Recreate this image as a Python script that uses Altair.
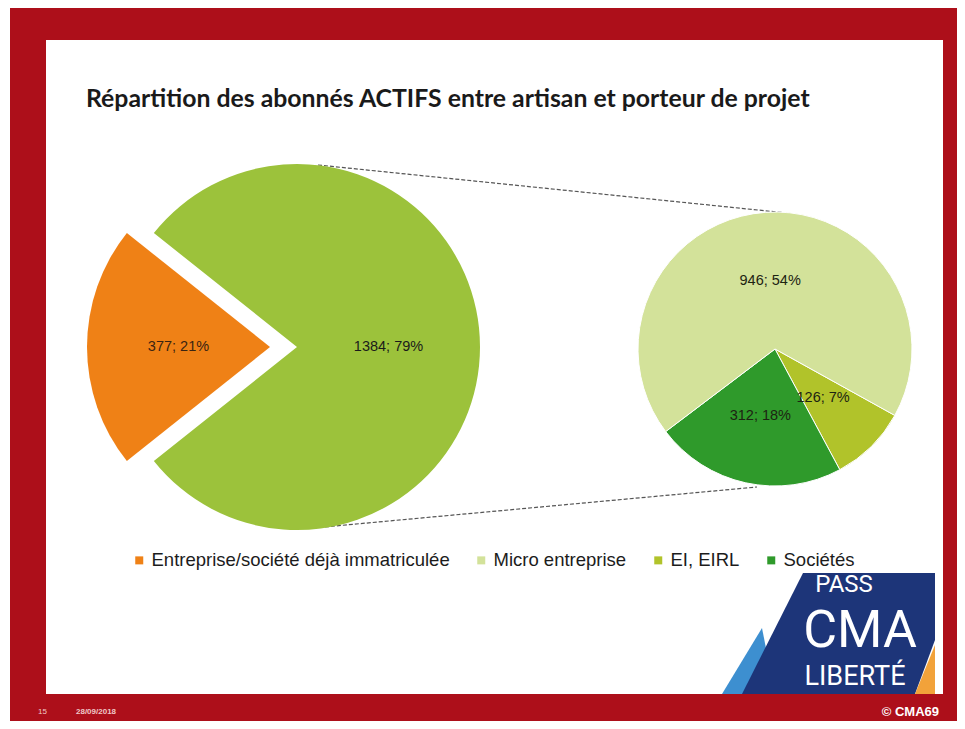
import math
import altair as alt
import pandas as pd

# ---------------- data ----------------
main_categories = ["Entreprise/société déjà immatriculée", "Porteur de projet"]
main_values = [377, 1384]
main_pct = [21, 79]

sub_categories = ["EI, EIRL", "Sociétés", "Micro entreprise"]
sub_values = [126, 312, 946]
sub_pct = [7, 18, 54]

legend_order = ["Entreprise/société déjà immatriculée", "Micro entreprise", "EI, EIRL", "Sociétés"]
legend_colors = ["#ef8116", "#d3e29a", "#b1c32a", "#2f9a2b"]
main_green = "#9cc23b"

title_text = "Répartition des abonnés ACTIFS entre artisan et porteur de projet"

# ---------------- layout ----------------
W, H = 949, 713
OFF = 8  # page margin -> chart coordinates


def c(v):
    return v - OFF


RED = "#ad0f1a"
LABEL_FONT = "Liberation Sans"

MAIN_CX, MAIN_CY, MAIN_R = c(297), c(347), 183
EXPLODE = 27
SUB_CX, SUB_CY, SUB_R = c(775), c(349), 137

main_df = pd.DataFrame({
    "categorie": main_categories,
    "valeur": main_values,
    "ordre": list(range(len(main_values))),
    "etiquette": [f"{v}; {p}%" for v, p in zip(main_values, main_pct)],
})
sub_df = pd.DataFrame({
    "categorie": sub_categories,
    "valeur": sub_values,
    "ordre": list(range(len(sub_values))),
    "etiquette": [f"{v}; {p}%" for v, p in zip(sub_values, sub_pct)],
})

main_total = sum(main_values)
main_start = 1.5 * math.pi - math.pi * main_values[0] / main_total
theta_main = alt.Scale(domain=[0, main_total], range=[main_start, main_start + 2 * math.pi])

sub_total = sum(sub_values)
sub_start = math.radians(119)
theta_sub = alt.Scale(domain=[0, sub_total], range=[sub_start, sub_start + 2 * math.pi])

color_scale = alt.Scale(domain=legend_order, range=legend_colors)
legend = alt.Legend(
    orient="none", legendX=c(130), legendY=c(551), direction="horizontal",
    title=None, symbolType="square", symbolSize=64, symbolStrokeWidth=0,
    labelFont=LABEL_FONT, labelFontSize=18.5, labelColor="#1c1c1c", labelLimit=0,
    labelOffset=3, columnPadding=22, padding=0,
)

# ---------------- background ----------------
bg = alt.Chart(pd.DataFrame({"a": [0]}))
red_frame = bg.mark_rect(color=RED).encode(
    x=alt.value(c(10)), x2=alt.value(c(965)), y=alt.value(c(6)), y2=alt.value(c(729)))
white_area = bg.mark_rect(color="#ffffff").encode(
    x=alt.value(c(46)), x2=alt.value(c(943)), y=alt.value(c(40)), y2=alt.value(c(694)))

# logo shapes (decoration)
xs = alt.Scale(domain=[0, W], range=[0, W])
ys = alt.Scale(domain=[0, H], range=[0, H])
logo_light = pd.DataFrame({"x": [c(722), c(762), c(775)], "y": [c(694), c(628), c(694)],
                           "y2": [c(694), c(694), c(694)]})
logo_navy = pd.DataFrame({"x": [c(742), c(803), c(915), c(935)],
                          "y": [c(694), c(573), c(573), c(573)],
                          "y2": [c(694), c(694), c(694), c(640)]})
logo_orange = pd.DataFrame({"x": [c(915), c(935)], "y": [c(694), c(645)], "y2": [c(694), c(694)]})


def poly(df, color):
    return alt.Chart(df).mark_area(color=color, interpolate="linear").encode(
        x=alt.X("x:Q", scale=xs, axis=None),
        y=alt.Y("y:Q", scale=ys, axis=None),
        y2="y2:Q",
    )


logo = alt.layer(poly(logo_light, "#3d8fd0"), poly(logo_navy, "#1d3579"), poly(logo_orange, "#f2a23a"))

LOGO_FONT = "Roboto"
logo_pass = bg.mark_text(text="PASS", font=LOGO_FONT, fontSize=24, color="#ffffff",
                         align="center", baseline="alphabetic").encode(x=alt.value(c(844)), y=alt.value(c(592)))
logo_cma = bg.mark_text(text="CMA", font=LOGO_FONT, fontSize=52, color="#ffffff",
                        align="center", baseline="alphabetic").encode(x=alt.value(c(860)), y=alt.value(c(647)))
logo_lib = bg.mark_text(text="LIBERTÉ", font=LOGO_FONT, fontSize=27, color="#ffffff",
                        align="center", baseline="alphabetic").encode(x=alt.value(c(855)), y=alt.value(c(685)))

# connectors
dash_top = bg.mark_rule(color="#555555", strokeDash=[4, 2], strokeWidth=1.2).encode(
    x=alt.value(c(318)), y=alt.value(c(165)), x2=alt.value(c(787)), y2=alt.value(c(213)))
dash_bot = bg.mark_rule(color="#555555", strokeDash=[4, 2], strokeWidth=1.2).encode(
    x=alt.value(c(313)), y=alt.value(c(528)), x2=alt.value(c(757)), y2=alt.value(c(487)))

# ---------------- main pie ----------------
main_base = alt.Chart(main_df).transform_stack(
    stack="valeur", groupby=[], as_=["debut", "fin"],
    sort=[alt.SortField("ordre", order="ascending")],
).transform_calculate(milieu="(datum.debut + datum.fin) / 2")

green_arc = main_base.transform_filter(alt.datum.ordre == 1).mark_arc(radius=MAIN_R).encode(
    x=alt.value(MAIN_CX), y=alt.value(MAIN_CY),
    theta=alt.Theta("debut:Q", scale=theta_main), theta2="fin:Q",
    color=alt.value(main_green),
)
orange_arc = main_base.transform_filter(alt.datum.ordre == 0).mark_arc(radius=MAIN_R).encode(
    x=alt.value(MAIN_CX - EXPLODE), y=alt.value(MAIN_CY),
    theta=alt.Theta("debut:Q", scale=theta_main), theta2="fin:Q",
    color=alt.Color("categorie:N", scale=color_scale, legend=legend),
)
green_txt = main_base.transform_filter(alt.datum.ordre == 1).mark_text(
    radius=MAIN_R * 0.5, font=LABEL_FONT, fontSize=14.5, color="#1a1a1a").encode(
    x=alt.value(MAIN_CX), y=alt.value(MAIN_CY),
    theta=alt.Theta("milieu:Q", scale=theta_main), text="etiquette:N")
orange_txt = main_base.transform_filter(alt.datum.ordre == 0).mark_text(
    radius=MAIN_R * 0.5, font=LABEL_FONT, fontSize=14.5, color="#3a2412").encode(
    x=alt.value(MAIN_CX - EXPLODE), y=alt.value(MAIN_CY),
    theta=alt.Theta("milieu:Q", scale=theta_main), text="etiquette:N")

main_pie = alt.layer(green_arc, orange_arc, green_txt, orange_txt)

# ---------------- sub pie ----------------
sub_base = alt.Chart(sub_df).transform_stack(
    stack="valeur", groupby=[], as_=["debut", "fin"],
    sort=[alt.SortField("ordre", order="ascending")],
).transform_calculate(milieu="(datum.debut + datum.fin) / 2")

sub_arc = sub_base.mark_arc(radius=SUB_R, stroke="#ffffff", strokeWidth=1).encode(
    x=alt.value(SUB_CX), y=alt.value(SUB_CY),
    theta=alt.Theta("debut:Q", scale=theta_sub), theta2="fin:Q",
    color=alt.Color("categorie:N", scale=color_scale, legend=legend),
)
sub_txt = sub_base.mark_text(radius=SUB_R * 0.5, font=LABEL_FONT, fontSize=14.5, color="#1d2412").encode(
    x=alt.value(SUB_CX), y=alt.value(SUB_CY),
    theta=alt.Theta("milieu:Q", scale=theta_sub), text="etiquette:N")

sub_pie = alt.layer(sub_arc, sub_txt)

# ---------------- texts ----------------
title = bg.mark_text(text=title_text, font="Lato", fontWeight="bold", fontSize=24.8,
                     color="#1a1a1a", align="left", baseline="alphabetic").encode(
    x=alt.value(c(86)), y=alt.value(c(107)))
foot_num = bg.mark_text(text="15", font=LABEL_FONT, fontSize=8, color="#f0c8c8", align="left").encode(
    x=alt.value(c(38)), y=alt.value(c(712)))
foot_date = bg.mark_text(text="28/09/2018", font=LABEL_FONT, fontSize=8, fontWeight="bold",
                         color="#f0c8c8", align="left").encode(x=alt.value(c(76)), y=alt.value(c(712)))
foot_copy = bg.mark_text(text="© CMA69", font=LABEL_FONT, fontSize=13, fontWeight="bold",
                         color="#ffffff", align="right").encode(x=alt.value(c(939)), y=alt.value(c(712)))

chart = alt.layer(
    red_frame, white_area, logo, logo_pass, logo_cma, logo_lib,
    dash_top, dash_bot, main_pie, sub_pie, title, foot_num, foot_date, foot_copy,
).resolve_scale(theta="independent").properties(
    width=W, height=H, padding=0, autosize=alt.AutoSizeParams(type="none"),
    background="#ffffff",
).configure_view(stroke=None)

chart.save("out.html", embed_options={"renderer": "svg", "actions": False})
